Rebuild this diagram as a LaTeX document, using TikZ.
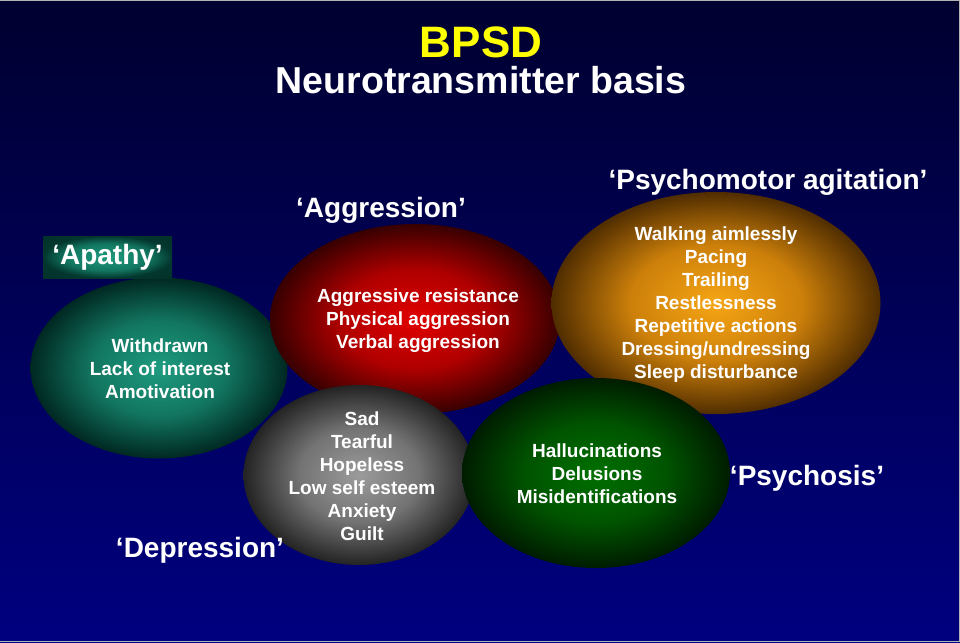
\documentclass[tikz,border=0pt]{standalone}
\usepackage{fontspec}
\setmainfont{Liberation Sans}
\usetikzlibrary{shapes.geometric}
\definecolor{bgtop}{RGB}{0,0,48}
\definecolor{bgbot}{RGB}{0,0,128}
\definecolor{tealL}{RGB}{30,155,128}
\definecolor{tealM}{RGB}{18,118,96}
\definecolor{tealD}{RGB}{0,40,34}
\definecolor{redL}{RGB}{225,0,0}
\definecolor{redM}{RGB}{175,0,0}
\definecolor{redD}{RGB}{55,0,0}
\definecolor{orL}{RGB}{245,165,20}
\definecolor{orM}{RGB}{205,128,10}
\definecolor{orD}{RGB}{80,45,0}
\definecolor{grL}{RGB}{155,155,155}
\definecolor{grM}{RGB}{115,115,115}
\definecolor{grD}{RGB}{35,35,35}
\definecolor{gnL}{RGB}{0,112,0}
\definecolor{gnM}{RGB}{0,84,0}
\definecolor{gnD}{RGB}{0,28,0}
\definecolor{titley}{RGB}{255,255,0}
\pgfdeclareradialshading{tealball}{\pgfpointorigin}{color(0bp)=(tealL); color(13bp)=(tealM); color(25bp)=(tealD); color(50bp)=(tealD)}
\pgfdeclareradialshading{redball}{\pgfpointorigin}{color(0bp)=(redL); color(13bp)=(redM); color(25bp)=(redD); color(50bp)=(redD)}
\pgfdeclareradialshading{orball}{\pgfpointorigin}{color(0bp)=(orL); color(13bp)=(orM); color(25bp)=(orD); color(50bp)=(orD)}
\pgfdeclareradialshading{grball}{\pgfpointorigin}{color(0bp)=(grL); color(13bp)=(grM); color(25bp)=(grD); color(50bp)=(grD)}
\pgfdeclareradialshading{gnball}{\pgfpointorigin}{color(0bp)=(gnL); color(13bp)=(gnM); color(25bp)=(gnD); color(50bp)=(gnD)}
\pgfdeclareradialshading{tealbox}{\pgfpointorigin}{color(0bp)=(tealL); color(16bp)=(tealM); color(25bp)=(tealD!80!tealM); color(50bp)=(tealD)}
\tikzset{
  ball/.style={ellipse, inner sep=0pt, draw=none},
  inner/.style={text=white, align=center, font=\bfseries\fontsize{19}{23}\selectfont},
  lab/.style={text=white, anchor=base, inner sep=0pt, font=\bfseries\fontsize{28}{32}\selectfont},
}
\begin{document}
\begin{tikzpicture}[x=1pt,y=-1pt]
\useasboundingbox (0,0) rectangle (960,642);
\shade[top color=bgtop, bottom color=bgbot] (0,0) rectangle (960,642);
\draw[gray!60, line width=1.2pt] (0,0.6) -- (959.4,0.6) -- (959.4,641.4) -- (0,641.4);
% titles
\node[anchor=base, text=titley, inner sep=0pt, font=\bfseries\fontsize{44}{48}\selectfont] (bpsd) at (481,57) {BPSD};
\node[anchor=base, text=white, inner sep=0pt, font=\bfseries\fontsize{37.5}{42}\selectfont] (nt) at (481,93) {Neurotransmitter basis};
% balls
\node[ball, shading=tealball, minimum width=257, minimum height=181] (teal) at (159,368) {};
\node[ball, shading=redball, minimum width=290, minimum height=190] (red) at (415,319) {};
\node[ball, shading=orball, minimum width=329, minimum height=222] (orange) at (716,303) {};
\node[ball, shading=grball, minimum width=231, minimum height=180] (gray) at (359,475) {};
\node[ball, shading=gnball, minimum width=268, minimum height=190] (green) at (596,473) {};
% inner texts
\node[inner] (tealtxt) at (160,369) {Withdrawn\\Lack of interest\\Amotivation};
\node[inner] (redtxt) at (418,321) {Aggressive resistance\\Physical aggression\\Verbal aggression};
\node[inner] (ortxt) at (716,305) {Walking aimlessly\\Pacing\\Trailing\\Restlessness\\Repetitive actions\\Dressing/undressing\\Sleep disturbance};
\node[inner] (grtxt) at (362,476) {Sad\\Tearful\\Hopeless\\Low self esteem\\Anxiety\\Guilt};
\node[inner] (gntxt) at (597,474) {Hallucinations\\Delusions\\Misidentifications};
% labels
\node[shading=tealbox, minimum width=129, minimum height=42, inner sep=0pt, text=white, font=\bfseries\fontsize{28}{32}\selectfont] (apathy) at (107.5,257) {‘Apathy’};
\node[lab] (aggr) at (381,217) {‘Aggression’};
\node[lab] (psymo) at (768,189) {‘Psychomotor agitation’};
\node[lab] (psychosis) at (807,485) {‘Psychosis’};
\node[lab] (depr) at (200,557) {‘Depression’};
\end{tikzpicture}
\end{document}
